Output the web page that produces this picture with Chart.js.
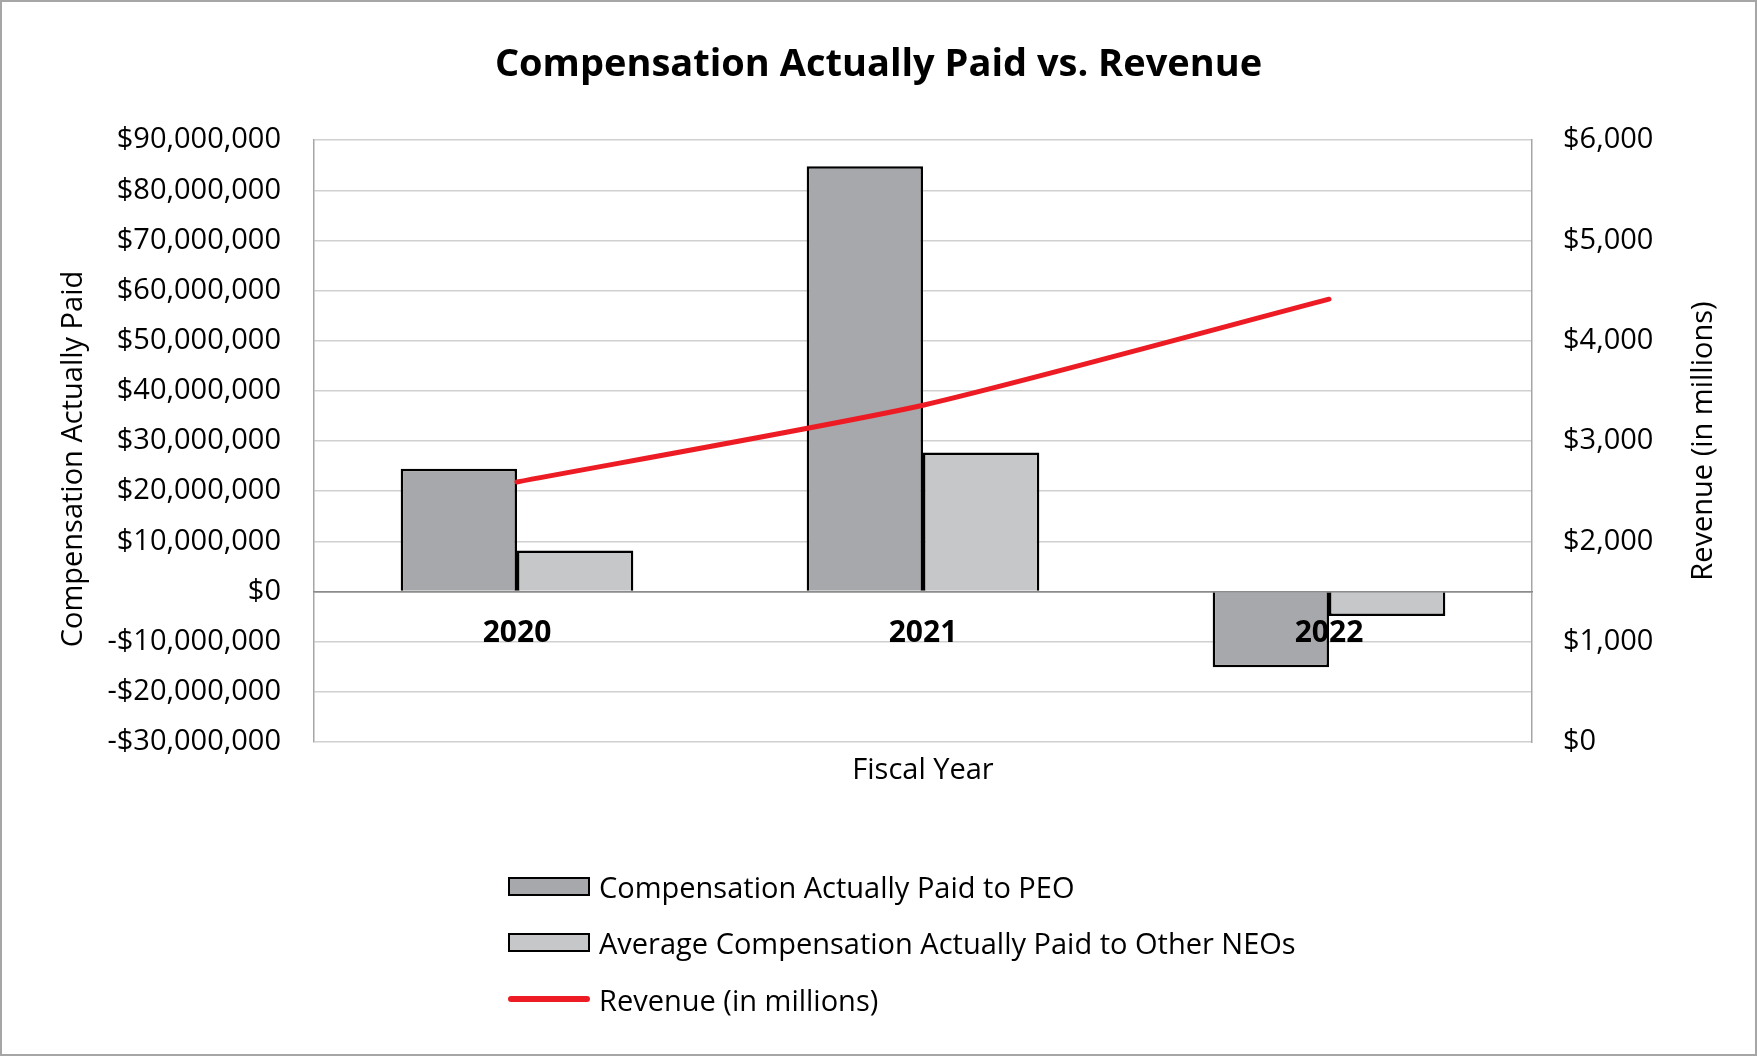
<!DOCTYPE html>
<html>
<head>
<meta charset="utf-8">
<title>Compensation Actually Paid vs. Revenue</title>
<script src="https://cdn.jsdelivr.net/npm/chart.js@4.4.1/dist/chart.umd.min.js"></script>
<style>
    html, body { margin: 0; padding: 0; background: #fff; }
    #wrap {
        position: relative;
        width: 1757px;
        height: 1056px;
        background: #fff;
        box-shadow: inset 0 0 0 2px #a6a6a6;
    }
    #chart { position: absolute; left: 0; top: 0; }
    #legend {
        position: absolute;
        left: 508px;
        top: 858px;
        font-family: "Open Sans", sans-serif;
        font-size: 29px;
        color: #000;
    }
    .item { display: flex; align-items: center; height: 56.5px; white-space: nowrap; }
    .swatch { width: 82px; height: 19px; box-sizing: border-box; margin-right: 9px; flex: none; }
    .swatch.line { height: 6px; border-radius: 3px; }
</style>
</head>
<body>
<div id="wrap">
    <canvas id="chart" width="1757" height="1056"></canvas>
    <div id="legend"></div>
</div>
<script>
// данные графика
const years = ['2020', '2021', '2022'];
const peoPaid = [24500000, 84800000, -15100000];
const neoPaid = [8200000, 27700000, -4900000];
const revenue = [2592, 3357, 4414];

const seriesNames = [
    'Compensation Actually Paid to PEO',
    'Average Compensation Actually Paid to Other NEOs',
    'Revenue (in millions)'
];

const leftTicks = { min: -30000000, max: 90000000, step: 10000000 };
const rightTicks = { min: 0, max: 6000, step: 1000 };

const FONT = '"Open Sans", sans-serif';
const LEFT_TITLE = 'Compensation Actually Paid';
const RIGHT_TITLE = 'Revenue (in millions)';

function money(v) {
    const s = '$' + Math.abs(v).toLocaleString('en-US');
    return v < 0 ? '-' + s : s;
}

// подписи осей: обе читаются снизу вверх, левая чуть ниже центра
const axisTitlesPlugin = {
    id: 'axisTitles',
    afterDraw(chart) {
        const c = chart.ctx;
        const area = chart.chartArea;
        const mid = (area.top + area.bottom) / 2;
        const draw = (text, x, y) => {
            c.save();
            c.translate(x, y);
            c.rotate(-Math.PI / 2);
            c.font = '29px ' + FONT;
            c.fillStyle = '#000';
            c.textAlign = 'center';
            c.textBaseline = 'middle';
            c.fillText(text, 0, 0);
            c.restore();
        };
        draw(LEFT_TITLE, chart.scales.y.left + 54, mid + 18);
        draw(RIGHT_TITLE, chart.scales.y1.right - 33, mid);
    }
};

const ctx = document.getElementById('chart').getContext('2d');

const chart = new Chart(ctx, {
    type: 'bar',
    data: {
        labels: years,
        datasets: [
            {
                label: seriesNames[0],
                data: peoPaid,
                backgroundColor: '#a7a8ab',
                borderColor: '#000',
                borderWidth: 2.5,
                yAxisID: 'y',
                order: 1
            },
            {
                label: seriesNames[1],
                data: neoPaid,
                backgroundColor: '#c6c7c9',
                borderColor: '#000',
                borderWidth: 2.5,
                yAxisID: 'y',
                order: 1
            },
            {
                type: 'line',
                label: seriesNames[2],
                data: revenue,
                borderColor: '#ed1c24',
                backgroundColor: '#ed1c24',
                borderWidth: 5,
                borderCapStyle: 'round',
                tension: 0.2,
                pointRadius: 0,
                yAxisID: 'y1',
                order: 0
            }
        ]
    },
    plugins: [axisTitlesPlugin],
    options: {
        responsive: false,
        animation: false,
        categoryPercentage: 0.573,
        barPercentage: 1,
        layout: {
            padding: { left: 20, right: 20, top: 0, bottom: 254 }
        },
        plugins: {
            legend: { display: false },
            tooltip: { enabled: false },
            title: {
                display: true,
                text: 'Compensation Actually Paid vs. Revenue',
                color: '#000',
                font: { family: FONT, size: 38, weight: 'bold' },
                padding: { top: 42, bottom: 52.5 }
            }
        },
        scales: {
            x: {
                position: { y: 0 },
                grid: { drawOnChartArea: false, drawTicks: false },
                border: { display: true, color: '#8c8c8c', width: 1.5, z: 1 },
                ticks: {
                    z: 1,
                    color: '#000',
                    padding: 24,
                    font: { family: FONT, size: 30, weight: 'bold' }
                }
            },
            xTitle: {
                type: 'category',
                position: 'bottom',
                grid: { display: false },
                border: { display: false },
                ticks: { display: false },
                title: {
                    display: true,
                    text: 'Fiscal Year',
                    color: '#000',
                    font: { family: FONT, size: 29 },
                    padding: { top: 0, bottom: 14 }
                },
                afterFit(scale) { scale.height = 60; }
            },
            y: {
                position: 'left',
                min: leftTicks.min,
                max: leftTicks.max,
                grid: {
                    drawTicks: false,
                    lineWidth: 1.5,
                    color: (c) => (c.tick && c.tick.value === 0 ? '#8c8c8c' : '#d0d0d0')
                },
                border: { display: true, color: '#a6a6a6', width: 1.5 },
                ticks: {
                    stepSize: leftTicks.step,
                    padding: 33,
                    color: '#000',
                    font: { family: FONT, size: 29 },
                    callback: (v) => money(v)
                },
                afterFit(scale) { scale.width = 294; }
            },
            y1: {
                position: 'right',
                min: rightTicks.min,
                max: rightTicks.max,
                grid: { drawOnChartArea: false, drawTicks: false },
                border: { display: true, color: '#a6a6a6', width: 1.5 },
                ticks: {
                    stepSize: rightTicks.step,
                    padding: 31,
                    color: '#000',
                    font: { family: FONT, size: 29 },
                    callback: (v) => money(v)
                },
                afterFit(scale) { scale.width = 205; }
            }
        }
    }
});

// легенда столбиком, как в исходнике
const legendBox = document.getElementById('legend');
chart.data.datasets.forEach((ds) => {
    const item = document.createElement('div');
    item.className = 'item';
    const sw = document.createElement('span');
    if (ds.type === 'line') {
        sw.className = 'swatch line';
        sw.style.background = ds.borderColor;
    } else {
        sw.className = 'swatch';
        sw.style.background = ds.backgroundColor;
        sw.style.border = ds.borderWidth + 'px solid ' + ds.borderColor;
    }
    const txt = document.createElement('span');
    txt.textContent = ds.label;
    item.appendChild(sw);
    item.appendChild(txt);
    legendBox.appendChild(item);
});
</script>
</body>
</html>
